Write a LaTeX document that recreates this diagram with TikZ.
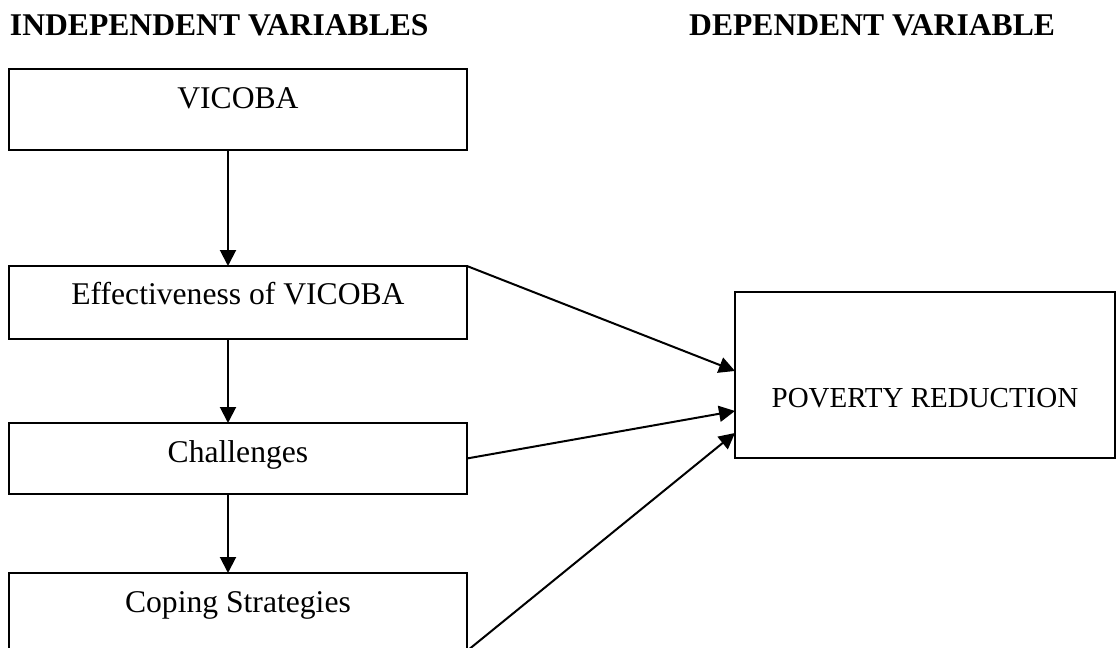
\documentclass[tikz,border=0pt]{standalone}
\usepackage{fontspec}
\setmainfont{Liberation Serif}
\newcommand*{\varfont}{\fontsize{18}{22}\selectfont}
\newcommand*{\outfont}{\fontsize{16.5}{20}\selectfont}
\usetikzlibrary{arrows.meta}
\usetikzlibrary{calc}
\tikzstyle{base}=[x=0.02cm, y=-0.02cm, inner sep=0pt, outer sep=0pt, line width=0.04cm]
\tikzstyle{varbox}=[draw, rectangle, minimum width=9.16cm, text height=0.8cm, anchor=north west]
\tikzstyle{link}=[-{Triangle[length=0.32cm, width=0.32cm]}]

\begin{document}
\begin{tikzpicture}[base]
    \varfont
        \path [use as bounding box] (0,0) rectangle (1116,648);
        \node [anchor=base west, font=\bfseries] (indep) at (10,36) {INDEPENDENT VARIABLES};
        \node [anchor=base east, font=\bfseries] (dep) at (1055,36) {DEPENDENT VARIABLE};
        \node [varbox, text depth=0.82cm] (vicoba) at (9,69) {VICOBA};
        \node [varbox, text height=0.78cm, text depth=0.68cm] (effect) at (9,266) {Effectiveness of VICOBA};
        \node [varbox, text depth=0.62cm] (challenge) at (9,423) {Challenges};
        \node [varbox, text depth=0.76cm] (coping) at (9,573) {Coping Strategies};
        \node [draw, rectangle, minimum width=7.6cm, text height=2.32cm, text depth=1cm, anchor=north west, font=\outfont] (poverty) at (735,292) {POVERTY REDUCTION};
        \coordinate (axis) at (228,0);
        \draw [link] (vicoba.south -| axis) -- (effect.north -| axis);
        \draw [link] (effect.south -| axis) -- (challenge.north -| axis);
        \draw [link] (challenge.south -| axis) -- (coping.north -| axis);
        \draw [link] (effect.north east) -- ($(poverty.west)+(0,-4)$);
        \draw [link] (challenge.east) -- ($(poverty.west)+(0,36)$);
        \draw [link] (coping.south east) -- ($(poverty.west)+(0,58)$);
    \end{tikzpicture}
\end{document}
